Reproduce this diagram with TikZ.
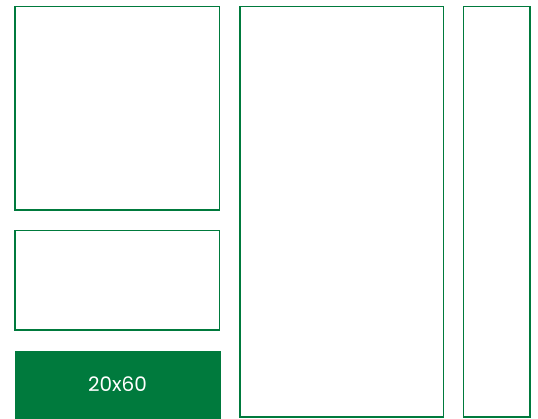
\documentclass[tikz,border=0pt]{standalone}
\usepackage{fontspec}
\setmainfont{Poppins}
\definecolor{tileg}{RGB}{0,122,61}
\begin{document}
\begin{tikzpicture}[x=1pt,y=-1pt,
  tile/.style={draw=tileg,line width=1.8pt},
  filled/.style={fill=tileg,draw=none}]
\useasboundingbox (0,0) rectangle (538,418);
\draw[tile] (15,6.5) rectangle (219.5,210) coordinate (a);
\draw[tile] (15,230.5) rectangle (219.5,330) coordinate (b);
\fill[filled] (14.5,351) rectangle (220.5,418.5);
\node[text=white,font=\fontsize{20}{24}\selectfont] (c) at (117.5,384.5) {20x60};
\draw[tile] (240,6.5) rectangle (443.5,417) coordinate (d);
\draw[tile] (463.5,6.5) rectangle (530,417) coordinate (e);
\end{tikzpicture}
\end{document}
